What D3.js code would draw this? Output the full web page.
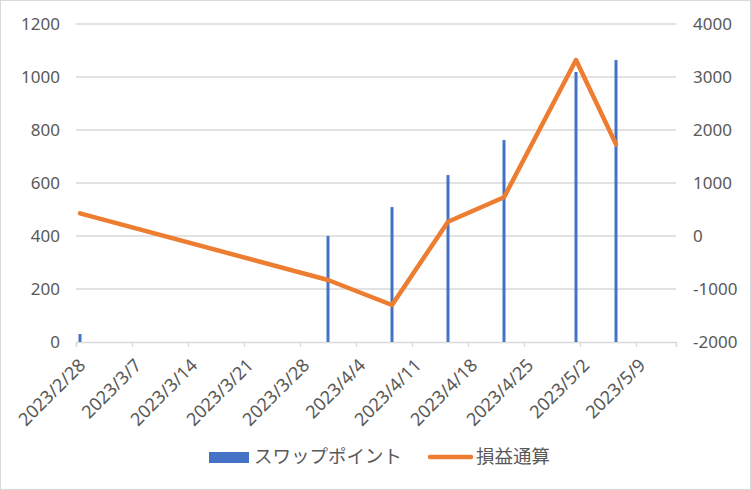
<!DOCTYPE html>
<html><head><meta charset="utf-8">
<script src="https://cdn.jsdelivr.net/npm/d3@7"></script>
<style>body{margin:0;background:#fff}svg{display:block}</style>
</head><body>
<script>
const barDates = ["2023-02-28","2023-03-31","2023-04-08","2023-04-15","2023-04-22","2023-05-01","2023-05-06"];
const swapValues = [30, 400, 509, 630, 762, 1019, 1064];
const lineDates = ["2023-02-28","2023-03-31","2023-04-08","2023-04-15","2023-04-22","2023-05-01","2023-05-06"];
const profitValues = [428, -830, -1302, 270, 730, 3321, 1730];
const xTickDates = ["2023-02-28","2023-03-07","2023-03-14","2023-03-21","2023-03-28","2023-04-04","2023-04-11","2023-04-18","2023-04-25","2023-05-02","2023-05-09"];
const leftTicks = [0,200,400,600,800,1000,1200];
const rightTicks = [-2000,-1000,0,1000,2000,3000,4000];
const seriesNames = ["スワップポイント","損益通算"];

const W=751,H=490;
const parse = d3.utcParse("%Y-%m-%d");
const svg = d3.select("body").append("svg").attr("width",W).attr("height",H);
svg.append("rect").attr("x",0.5).attr("y",0.5).attr("width",W-1).attr("height",H-1)
  .attr("fill","#fff").attr("stroke","#d9d9d9");

const L=76,R=676,T=24,B=342;
const dayMs=86400000;
const x = d3.scaleUtc().domain([parse("2023-02-28"), parse("2023-05-14")]).range([L,R]);
const cx = d => x(new Date(parse(d).getTime()+dayMs/2));
const yL = d3.scaleLinear().domain([0,1200]).range([B,T]);
const yR = d3.scaleLinear().domain([-2000,4000]).range([B,T]);
const font = "'Noto Sans','Noto Sans CJK JP',sans-serif";
const col = "#595959";
const numFmt = d => (d<0?"-":"") + Math.abs(d);

// gridlines
svg.append("g").selectAll("line").data(leftTicks.filter(d=>d>0)).join("line")
  .attr("x1",L).attr("x2",R).attr("y1",d=>yL(d)).attr("y2",d=>yL(d))
  .attr("stroke","#d9d9d9").attr("stroke-width",1.3);

// left axis
const gl = svg.append("g").attr("transform",`translate(${L},0)`)
  .call(d3.axisLeft(yL).tickValues(leftTicks).tickFormat(numFmt).tickSize(0).tickPadding(16));
gl.select(".domain").remove();
gl.selectAll("text").attr("fill",col).style("font-family",font).style("font-size","17px");

// right axis
const gr = svg.append("g").attr("transform",`translate(${R},0)`)
  .call(d3.axisRight(yR).tickValues(rightTicks).tickFormat(numFmt).tickSize(0).tickPadding(17));
gr.select(".domain").remove();
gr.selectAll("text").attr("fill",col).style("font-family",font).style("font-size","17px");

// x axis
const gx = svg.append("g").attr("transform",`translate(0,${B})`)
  .call(d3.axisBottom(x).tickValues(xTickDates.map(parse).concat([parse("2023-05-14")])).tickSize(5).tickFormat(""));
gx.select(".domain").attr("stroke","#d9d9d9").attr("stroke-width",1.3);
gx.selectAll(".tick line").attr("stroke","#d9d9d9").attr("stroke-width",1.3);
const fmt = d3.utcFormat("%Y/%-m/%-d");
svg.append("g").selectAll("text").data(xTickDates).join("text")
  .attr("transform",d=>`translate(${x(parse(d))+6},${B+20}) rotate(-45)`)
  .attr("text-anchor","end").attr("dy","0.35em")
  .attr("fill",col).style("font-family",font).style("font-size","18px")
  .text(d=>fmt(parse(d)));

// bars
const bw=3;
svg.append("g").selectAll("rect").data(swapValues).join("rect")
  .attr("x",(d,i)=>cx(barDates[i])-bw/2).attr("width",bw)
  .attr("y",d=>yL(d)).attr("height",d=>B-yL(d)).attr("fill","#4472C4");

// line
const line = d3.line().x((d,i)=>cx(lineDates[i])).y(d=>yR(d));
svg.append("path").datum(profitValues).attr("d",line)
  .attr("fill","none").attr("stroke","#ED7D31").attr("stroke-width",4.5)
  .attr("stroke-linejoin","round").attr("stroke-linecap","round");

// legend
const lg = svg.append("g");
lg.append("rect").attr("x",209).attr("y",452).attr("width",40).attr("height",11).attr("fill","#4472C4");
lg.append("text").attr("x",254).attr("y",457).attr("dy","0.35em").attr("fill",col)
  .style("font-family","'Noto Sans CJK JP',sans-serif").style("font-size","18.5px").text(seriesNames[0]);
lg.append("line").attr("x1",430).attr("x2",471).attr("y1",457).attr("y2",457)
  .attr("stroke","#ED7D31").attr("stroke-width",4.5).attr("stroke-linecap","round");
lg.append("text").attr("x",476).attr("y",457).attr("dy","0.35em").attr("fill",col)
  .style("font-family","'Noto Sans CJK JP',sans-serif").style("font-size","18.5px").text(seriesNames[1]);
</script>
</body></html>
